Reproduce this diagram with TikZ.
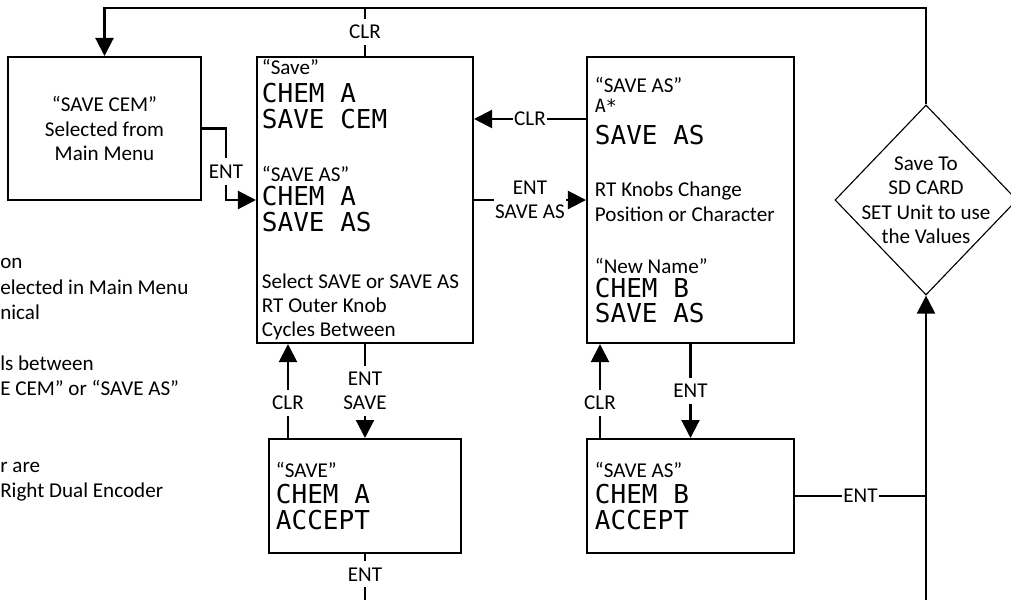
\documentclass[tikz,border=0pt]{standalone}
\usepackage{fontspec}
\setmainfont{Carlito}
\newfontfamily\lcdfont{DejaVu Sans Mono}
\usetikzlibrary{shapes,arrows.meta}

\newcommand{\lcd}[1]{{\lcdfont\fontsize{18.5pt}{17.4pt}\selectfont #1}}
\newcommand{\lcdsmall}[1]{{\lcdfont\fontsize{13pt}{17.4pt}\selectfont #1}}

\begin{document}
\begin{tikzpicture}[x=0.025cm, y=-0.025cm,
    font=\fontsize{15pt}{17.4pt}\selectfont,
    scrbox/.style={rectangle, draw=black, line width=1.4pt, align=flush left, minimum height=7.15cm, inner ysep=0pt},
    menubox/.style={rectangle, draw=black, line width=1.4pt, align=center, minimum width=4.825cm, minimum height=3.575cm},
    decision/.style={diamond, draw=black, line width=0.8pt, minimum width=4.55cm, minimum height=4.75cm, inner sep=0pt},
    lbl/.style={fill=white, inner xsep=1pt, inner ysep=4.5pt, align=center},
    line/.style={line width=1.5pt},
    arrow/.style={line, -{Triangle[length=0.45cm, width=0.45cm]}}]

    \useasboundingbox (0,0) rectangle (1011,600);

    % Left notes (cut off at the page edge)
    \node[anchor=north west, inner sep=0pt, align=left, font=\fontsize{15pt}{18.13pt}\selectfont] (note) at (0,258) {
        on\\
        elected in Main Menu\\
        nical\\[18.13pt]
        ls between\\
        E CEM” or “SAVE AS”\\[36.26pt]
        r are\\
        Right Dual Encoder
    };

    % Main menu box
    \node[menubox] (cem) at (104.5,128.5) {“SAVE CEM”\\Selected from\\Main Menu};

    % Save screen
    \node[scrbox, text width=5.15cm, inner xsep=0.125cm] (save) at (365,200) {
        “Save”\\[2.5pt]
        \lcd{CHEM A}\\[1.1pt]
        \lcd{SAVE CEM}\\[19.7pt]
        “SAVE AS”\\[0pt]
        \lcd{CHEM A}\\[1.1pt]
        \lcd{SAVE AS}\\[22.8pt]
        \mbox{Select SAVE or SAVE AS}\\
        RT Outer Knob\\
        Cycles Between
    };

    % Save as screen
    \node[scrbox, text width=4.775cm, inner xsep=0.2cm] (saveas) at (690.5,200) {
        “SAVE AS”\\[-3.5pt]
        \lcdsmall{A*}\\[5.9pt]
        \lcd{SAVE AS}\\[19.6pt]
        RT Knobs Change\\
        \mbox{Position or Character}\\[19.6pt]
        “New Name”\\
        \lcd{CHEM B}\\
        \lcd{SAVE AS}
    };

    % Accept screens
    \node[scrbox, text width=4.45cm, inner xsep=0.175cm, minimum height=2.85cm] (accept) at (365,496) {
        “SAVE”\\[1.1pt]
        \lcd{CHEM A}\\[1.1pt]
        \lcd{ACCEPT}
    };
    \node[scrbox, text width=4.775cm, inner xsep=0.2cm, minimum height=2.85cm] (acceptas) at (690.5,496) {
        “SAVE AS”\\[1.1pt]
        \lcd{CHEM B}\\[1.1pt]
        \lcd{ACCEPT}
    };

    % Save to SD card
    \node[decision] (sd) at (926,200) {};
    \node[align=center, inner sep=0pt] (sdtext) at (sd.center) {Save To\\SD CARD\\SET Unit to use\\the Values};

    \coordinate (top) at (0,8);
    \coordinate (bot) at (0,600);

    % Arrows
    \draw[arrow] (sd.north) -- (sd.north |- top) -- (cem.north |- top) -- (cem.north);
    \draw[line] (save.north) -- node[lbl]{CLR} (save.north |- top);
    \draw[arrow] (cem.east) -- ++(24,0) |- node[lbl, pos=0.3]{ENT} (save.west);
    \draw[arrow] ([yshift=2.025cm]saveas.west) -- node[lbl]{CLR} ([yshift=2.025cm]save.east);
    \draw[arrow] (save.east) -- node[lbl]{ENT\\SAVE AS} (saveas.west);
    \draw[arrow] (save.south) -- node[lbl]{ENT\\SAVE} (accept.north);
    \coordinate (clrA) at ([xshift=0.5cm]accept.north west);
    \draw[arrow] (clrA) -- node[lbl, pos=0.375]{CLR} (clrA |- save.south);
    \draw[arrow] (saveas.south) -- node[lbl]{ENT} (acceptas.north);
    \coordinate (clrB) at ([xshift=0.35cm]acceptas.north west);
    \draw[arrow] (clrB) -- node[lbl, pos=0.375]{CLR} (clrB |- saveas.south);
    \draw[line] (accept.south) -- node[lbl, pos=0.44]{ENT} (accept.south |- bot);
    \draw[line] (acceptas.east) -- node[lbl]{ENT} (acceptas.east -| sd.south);
    \draw[arrow] (sd.south |- bot) -- (sd.south);

\end{tikzpicture}
\end{document}
